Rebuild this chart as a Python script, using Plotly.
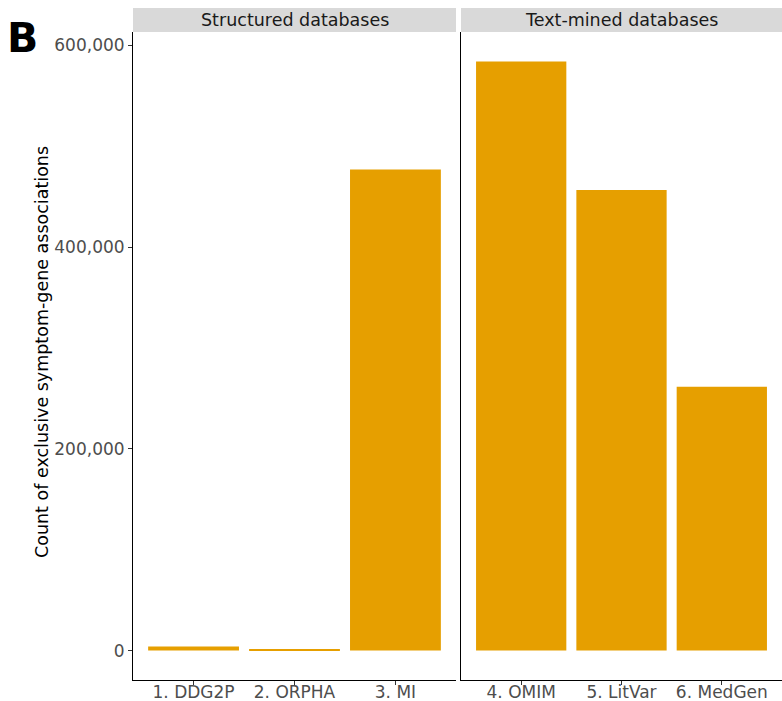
import plotly.graph_objects as go

structured_cats = ["1. DDG2P", "2. ORPHA", "3. MI"]
structured_vals = [4000, 1500, 477000]
textmined_cats = ["4. OMIM", "5. LitVar", "6. MedGen"]
textmined_vals = [584000, 456500, 261500]
facet_labels = ["Structured databases", "Text-mined databases"]
y_ticks = [0, 200000, 400000, 600000]
y_ticklabels = ["0", "200,000", "400,000", "600,000"]

BAR = "#E69F00"
FONT = "DejaVu Sans"

fig = go.Figure()
fig.add_trace(go.Bar(x=structured_cats, y=structured_vals, marker=dict(color=BAR, line=dict(width=0)),
                     xaxis="x", yaxis="y", showlegend=False))
fig.add_trace(go.Bar(x=textmined_cats, y=textmined_vals, marker=dict(color=BAR, line=dict(width=0)),
                     xaxis="x2", yaxis="y2", showlegend=False))

W, H = 782, 701
L, R, T, B = 133, 0, 32, 21
pw = W - L - R
ph = H - T - B
d1 = [0, 323 / pw]
d2 = [(461 - L) / pw, 1]
yr = [-29200, 613200]

xcommon = dict(type="category", range=[-0.6, 2.6], showline=True, linecolor="black", linewidth=1,
               ticks="outside", ticklen=4, tickcolor="#333333", tickwidth=1,
               tickfont=dict(family=FONT, size=17, color="#4D4D4D"), showgrid=False,
               zeroline=False, automargin=False, fixedrange=True, ticklabelstandoff=-7)
fig.update_layout(
    width=W, height=H,
    margin=dict(l=L, r=R, t=T, b=B),
    paper_bgcolor="white", plot_bgcolor="white",
    bargap=0.1,
    font=dict(family=FONT),
    xaxis=dict(domain=d1, anchor="y", **xcommon),
    xaxis2=dict(domain=d2, anchor="y2", **xcommon),
    yaxis=dict(domain=[0, 1], anchor="x", range=yr, tickvals=y_ticks, ticktext=y_ticklabels,
               showline=True, linecolor="black", linewidth=1, ticks="outside", ticklen=4,
               tickcolor="#333333", tickfont=dict(family=FONT, size=17, color="#4D4D4D"),
               showgrid=False, zeroline=False, automargin=False),
    yaxis2=dict(domain=[0, 1], anchor="x2", range=yr, matches="y", showticklabels=False,
                showline=True, linecolor="black", linewidth=1, ticks="",
                showgrid=False, zeroline=False, automargin=False),
)

strip_h = 24 / ph
shapes = []
annotations = []
for dom, lab in zip([d1, d2], facet_labels):
    shapes.append(dict(type="rect", xref="paper", yref="paper", x0=dom[0], x1=dom[1], y0=1,
                       y1=1 + strip_h, fillcolor="#D9D9D9", line=dict(width=0), layer="below"))
    annotations.append(dict(text=lab, xref="paper", yref="paper", x=(dom[0] + dom[1]) / 2,
                            y=1 + strip_h / 2, xanchor="center", yanchor="middle", showarrow=False,
                            font=dict(family=FONT, size=17.5, color="#1A1A1A")))
annotations.append(dict(text="Count of exclusive symptom-gene associations", xref="paper", yref="paper",
                        x=(42 - L) / pw, y=(H - B - 352) / ph, textangle=-90, xanchor="center",
                        yanchor="middle", showarrow=False, font=dict(family=FONT, size=17.5, color="black")))
annotations.append(dict(text="<b>B</b>", xref="paper", yref="paper", x=(5 - L) / pw, y=(H - B - 38) / ph,
                        xanchor="left", yanchor="middle", showarrow=False,
                        font=dict(family=FONT, size=41, color="black")))
fig.update_layout(shapes=shapes, annotations=annotations)

fig.write_html("out.html", config={"displayModeBar": False},
               post_script="document.body.style.margin='0';document.body.style.overflow='hidden';")
